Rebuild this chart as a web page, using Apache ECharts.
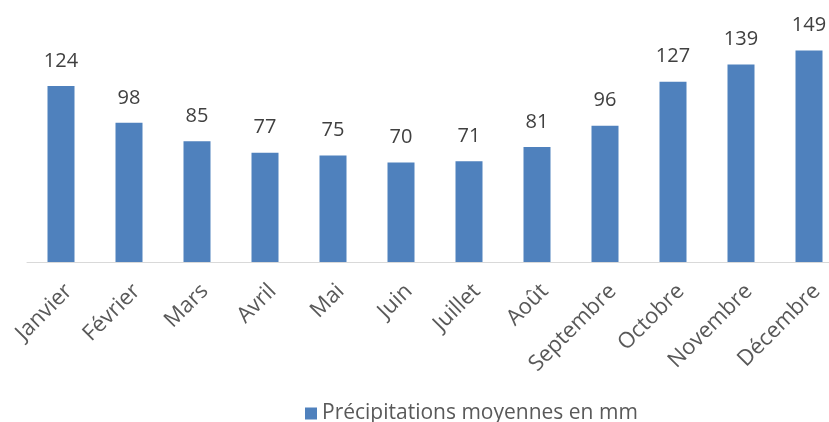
<!DOCTYPE html>
<html>
<head>
<meta charset="utf-8">
<script src="https://cdn.jsdelivr.net/npm/echarts@6/dist/echarts.min.js"></script>
<style>
html,body{margin:0;padding:0;background:#fff;overflow:hidden;width:829px;height:422px;}
#chart{width:843px;height:422px;}
</style>
</head>
<body>
<div id="chart"></div>
<script>
const months = ['Janvier','Février','Mars','Avril','Mai','Juin','Juillet','Août','Septembre','Octobre','Novembre','Décembre'];
const precipitations = [124, 98, 85, 77, 75, 70, 71, 81, 96, 127, 139, 149];
const seriesName = 'Précipitations moyennes en mm';

const chart = echarts.init(document.getElementById('chart'), null, {renderer: 'canvas'});
const font = '"Open Sans", "Noto Sans", sans-serif';
chart.setOption({
  animation: false,
  backgroundColor: '#ffffff',
  textStyle: {fontFamily: font},
  grid: {left: 27, top: 49, right: 0, bottom: 160, containLabel: false},
  legend: {
    data: [seriesName],
    left: 300, top: 398,
    icon: 'rect', itemWidth: 12, itemHeight: 12, itemGap: 6,
    textStyle: {fontSize: 21, color: '#595959', fontFamily: font}
  },
  xAxis: {
    type: 'category',
    data: months,
    axisLine: {lineStyle: {color: '#D9D9D9', width: 1}},
    axisTick: {show: false},
    axisLabel: {rotate: 45, interval: 0, fontSize: 22, color: '#595959', margin: 18, verticalAlign: 'top', fontFamily: font}
  },
  yAxis: {
    type: 'value', min: 0, max: 150,
    show: false,
    splitLine: {show: false}
  },
  series: [{
    name: seriesName,
    type: 'bar',
    data: precipitations,
    barWidth: 27,
    itemStyle: {color: '#4F81BD'},
    label: {show: true, position: 'top', distance: 15, fontSize: 20, color: '#404040', fontFamily: font}
  }]
});
</script>
</body>
</html>
